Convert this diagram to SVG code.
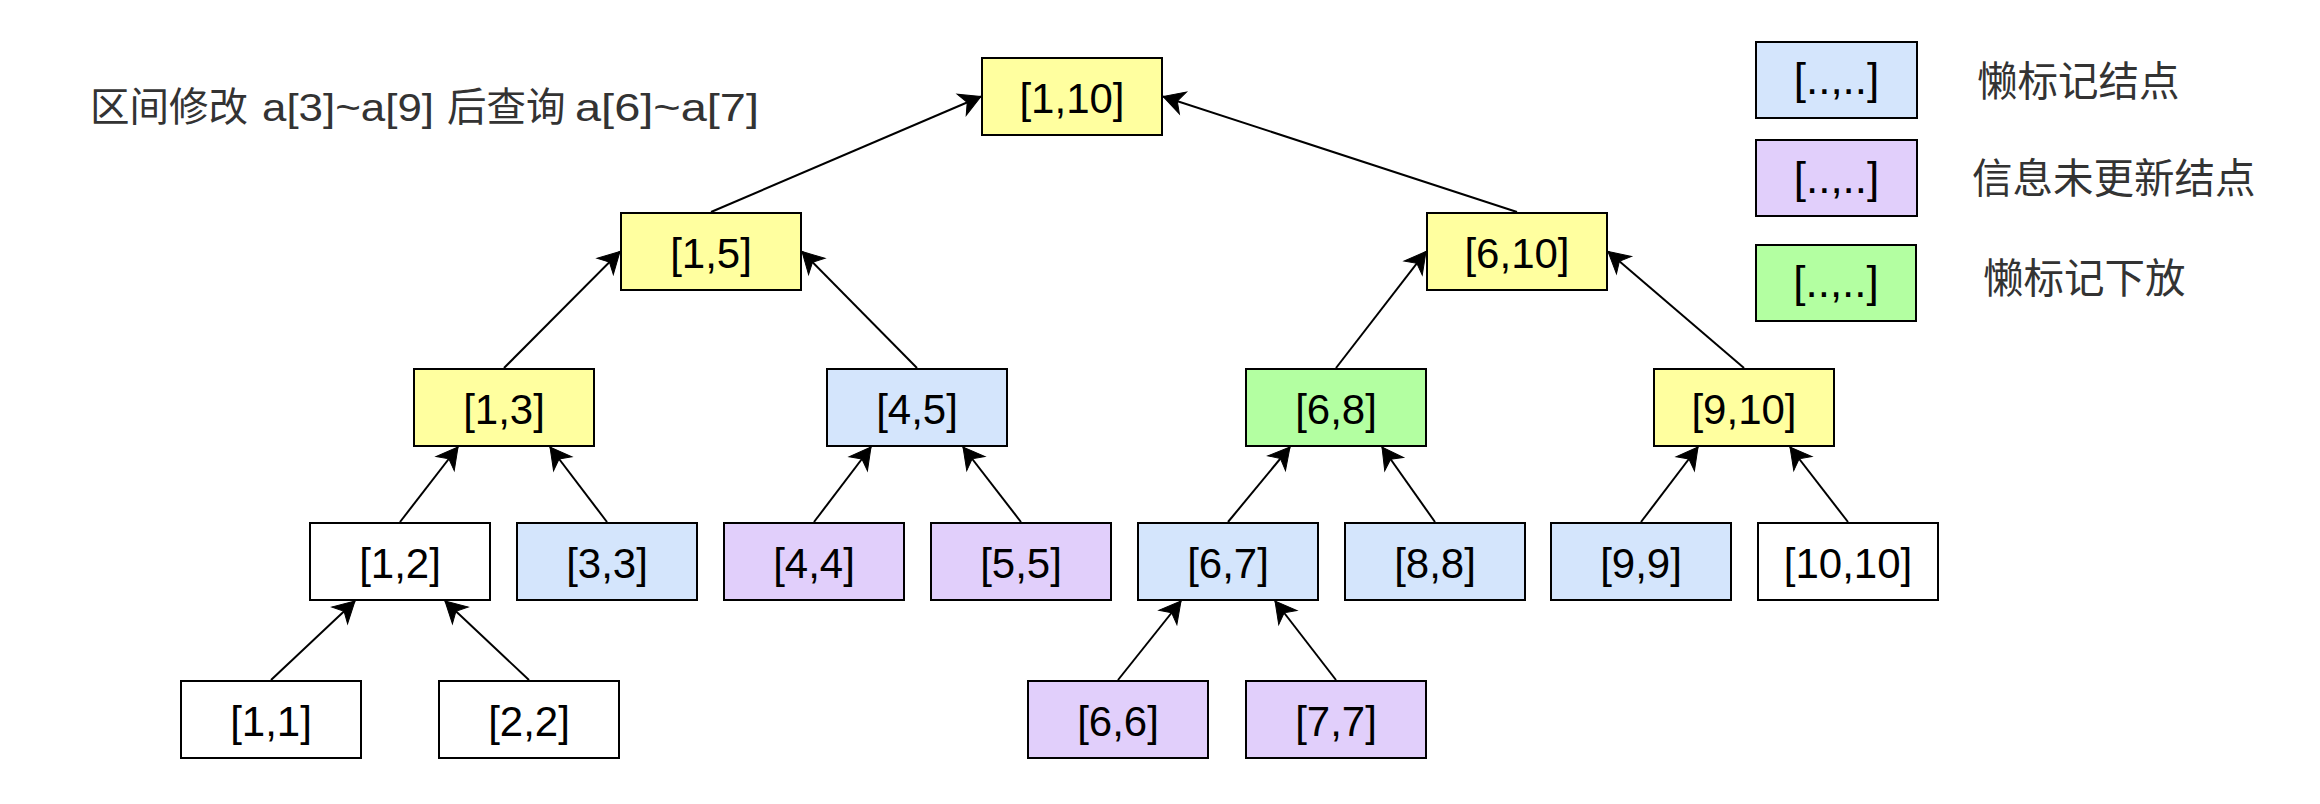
<svg xmlns="http://www.w3.org/2000/svg" width="2320" height="804" viewBox="0 0 2320 804">
<style>
.box{stroke:#000;stroke-width:2}
.y{fill:#FFFF9F}
.b{fill:#D4E5FC}
.p{fill:#E1CFFB}
.g{fill:#B3FFA1}
.w{fill:#FFFFFF}
.lbl{font-family:"Liberation Sans",Arial,sans-serif;font-size:42px;fill:#000;text-anchor:middle}
.leg{font-family:"Liberation Sans",Arial,sans-serif;font-size:44px;fill:#000;text-anchor:middle}
.cjk{font-family:"Liberation Sans","Noto Sans CJK SC",sans-serif;fill:#333333}
.edge{stroke:#000;stroke-width:2;fill:none;marker-end:url(#arr)}
</style>
<defs>
<marker id="arr" markerUnits="userSpaceOnUse" viewBox="-23 -13 25 26" refX="0" refY="0" markerWidth="25" markerHeight="26" orient="auto">
<path d="M0,0 L-21,-11.5 L-15,0 L-21,11.5 Z" fill="#000" stroke="#000" stroke-width="1" stroke-linejoin="miter"/>
</marker>
</defs>
<rect width="2320" height="804" fill="#FFFFFF"/>

<g id="title">
<text class="cjk" x="90" y="121" font-size="39.5">区间修改</text>
<text class="cjk" x="262" y="121" font-size="38" textLength="172" lengthAdjust="spacingAndGlyphs">a[3]~a[9]</text>
<text class="cjk" x="447" y="121" font-size="39.5">后查询</text>
<text class="cjk" x="575" y="121" font-size="38" textLength="184" lengthAdjust="spacingAndGlyphs">a[6]~a[7]</text>
</g>

<g id="connectors">
<line class="edge" x1="711" y1="212" x2="981" y2="96.5"/>
<line class="edge" x1="1517" y1="212" x2="1163" y2="96.5"/>
<line class="edge" x1="504" y1="368" x2="620" y2="251.5"/>
<line class="edge" x1="917" y1="368" x2="802" y2="251.5"/>
<line class="edge" x1="1336" y1="368" x2="1426" y2="251.5"/>
<line class="edge" x1="1744" y1="368" x2="1608" y2="251.5"/>
<line class="edge" x1="400" y1="522" x2="458" y2="447"/>
<line class="edge" x1="607" y1="522" x2="550" y2="447"/>
<line class="edge" x1="814" y1="522" x2="871" y2="447"/>
<line class="edge" x1="1021" y1="522" x2="963" y2="447"/>
<line class="edge" x1="1228" y1="522" x2="1290" y2="447"/>
<line class="edge" x1="1435" y1="522" x2="1382" y2="447"/>
<line class="edge" x1="1641" y1="522" x2="1698" y2="447"/>
<line class="edge" x1="1848" y1="522" x2="1790" y2="447"/>
<line class="edge" x1="271" y1="680" x2="355" y2="601"/>
<line class="edge" x1="529" y1="680" x2="445" y2="601"/>
<line class="edge" x1="1118" y1="680" x2="1181" y2="601"/>
<line class="edge" x1="1336" y1="680" x2="1275" y2="601"/>
</g>

<g id="n1_10"><rect class="box y" x="982" y="58" width="180" height="77"/><text class="lbl" x="1072" y="112.5">[1,10]</text></g>
<g id="n1_5"><rect class="box y" x="621" y="213" width="180" height="77"/><text class="lbl" x="711" y="267.5">[1,5]</text></g>
<g id="n6_10"><rect class="box y" x="1427" y="213" width="180" height="77"/><text class="lbl" x="1517" y="267.5">[6,10]</text></g>
<g id="n1_3"><rect class="box y" x="414" y="369" width="180" height="77"/><text class="lbl" x="504" y="423.5">[1,3]</text></g>
<g id="n4_5"><rect class="box b" x="827" y="369" width="180" height="77"/><text class="lbl" x="917" y="423.5">[4,5]</text></g>
<g id="n6_8"><rect class="box g" x="1246" y="369" width="180" height="77"/><text class="lbl" x="1336" y="423.5">[6,8]</text></g>
<g id="n9_10"><rect class="box y" x="1654" y="369" width="180" height="77"/><text class="lbl" x="1744" y="423.5">[9,10]</text></g>
<g id="n1_2"><rect class="box w" x="310" y="523" width="180" height="77"/><text class="lbl" x="400" y="577.5">[1,2]</text></g>
<g id="n3_3"><rect class="box b" x="517" y="523" width="180" height="77"/><text class="lbl" x="607" y="577.5">[3,3]</text></g>
<g id="n4_4"><rect class="box p" x="724" y="523" width="180" height="77"/><text class="lbl" x="814" y="577.5">[4,4]</text></g>
<g id="n5_5"><rect class="box p" x="931" y="523" width="180" height="77"/><text class="lbl" x="1021" y="577.5">[5,5]</text></g>
<g id="n6_7"><rect class="box b" x="1138" y="523" width="180" height="77"/><text class="lbl" x="1228" y="577.5">[6,7]</text></g>
<g id="n8_8"><rect class="box b" x="1345" y="523" width="180" height="77"/><text class="lbl" x="1435" y="577.5">[8,8]</text></g>
<g id="n9_9"><rect class="box b" x="1551" y="523" width="180" height="77"/><text class="lbl" x="1641" y="577.5">[9,9]</text></g>
<g id="n10_10"><rect class="box w" x="1758" y="523" width="180" height="77"/><text class="lbl" x="1848" y="577.5">[10,10]</text></g>
<g id="n1_1"><rect class="box w" x="181" y="681" width="180" height="77"/><text class="lbl" x="271" y="735.5">[1,1]</text></g>
<g id="n2_2"><rect class="box w" x="439" y="681" width="180" height="77"/><text class="lbl" x="529" y="735.5">[2,2]</text></g>
<g id="n6_6"><rect class="box p" x="1028" y="681" width="180" height="77"/><text class="lbl" x="1118" y="735.5">[6,6]</text></g>
<g id="n7_7"><rect class="box p" x="1246" y="681" width="180" height="77"/><text class="lbl" x="1336" y="735.5">[7,7]</text></g>

<g id="legend_lazy"><rect class="box b" x="1756" y="42" width="161" height="76"/><text class="leg" x="1836.5" y="94">[..,..]</text><text class="cjk" x="1977" y="96" font-size="40.5">懒标记结点</text></g>
<g id="legend_stale"><rect class="box p" x="1756" y="140" width="161" height="76"/><text class="leg" x="1836.5" y="193">[..,..]</text><text class="cjk" x="1972" y="193" font-size="40.5">信息未更新结点</text></g>
<g id="legend_push"><rect class="box g" x="1756" y="245" width="160" height="76"/><text class="leg" x="1836" y="297">[..,..]</text><text class="cjk" x="1983" y="293" font-size="40.5">懒标记下放</text></g>
</svg>
